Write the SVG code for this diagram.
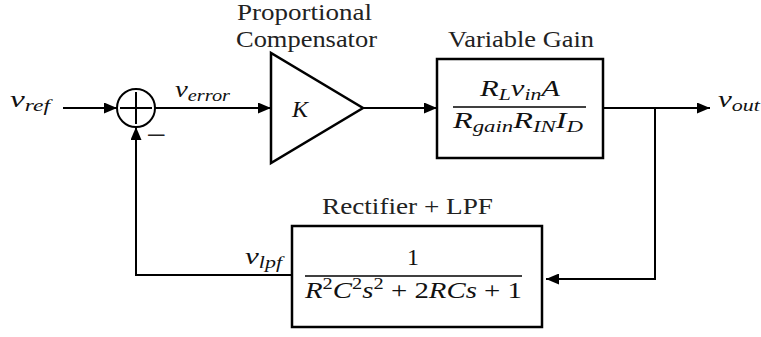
<svg xmlns="http://www.w3.org/2000/svg" width="761" height="337" viewBox="0 0 761 337">
<defs>
<marker id="arr" markerUnits="userSpaceOnUse" markerWidth="13" markerHeight="11" refX="13" refY="5.5" orient="auto">
<path d="M0,0 L13,5.5 L0,11 z" fill="#000"/>
</marker>
</defs>
<rect width="761" height="337" fill="#fff"/>
<g id="connectors" fill="none" stroke="#000" stroke-width="2">
<line x1="63" y1="108" x2="117" y2="108" marker-end="url(#arr)"/>
<line x1="155" y1="108" x2="271" y2="108" marker-end="url(#arr)"/>
<line x1="363" y1="108" x2="437" y2="108" marker-end="url(#arr)"/>
<line x1="603" y1="108" x2="710" y2="108" marker-end="url(#arr)"/>
<polyline points="655,108 655,279 546,279" marker-end="url(#arr)"/>
<polyline points="292,275 136,275 136,127" marker-end="url(#arr)"/>
</g>
<g id="sum">
<circle cx="136" cy="108" r="19" fill="none" stroke="#000" stroke-width="2"/>
<path d="M136,92 V124 M120,108 H152" stroke="#000" stroke-width="2"/>
<text style="font-family:'Liberation Serif',serif" font-size="32" fill="#222" x="146" y="146" textLength="20" lengthAdjust="spacingAndGlyphs">−</text>
</g>
<g id="compensator">
<polygon points="271,53 271,163 363,108" fill="#fff" stroke="#000" stroke-width="2.5"/>
<text style="font-family:'Liberation Serif',serif" font-size="24" fill="#222" x="304.5" y="20" text-anchor="middle" textLength="135" lengthAdjust="spacingAndGlyphs">Proportional</text>
<text style="font-family:'Liberation Serif',serif" font-size="24" fill="#222" x="306.5" y="47" text-anchor="middle" textLength="141" lengthAdjust="spacingAndGlyphs">Compensator</text>
<text style="font-family:'Liberation Serif',serif" font-size="24" font-style="italic" fill="#111" x="300" y="117" text-anchor="middle">K</text>
</g>
<g id="gain">
<rect x="437" y="59" width="166" height="99" fill="#fff" stroke="#000" stroke-width="2.5"/>
<text style="font-family:'Liberation Serif',serif" font-size="24" fill="#222" x="521" y="47" text-anchor="middle" textLength="146" lengthAdjust="spacingAndGlyphs">Variable Gain</text>
<text style="font-family:'Liberation Serif',serif" font-size="24" font-style="italic" fill="#111" x="480" y="96" textLength="80" lengthAdjust="spacingAndGlyphs">R<tspan font-size="17" dy="4">L</tspan><tspan dy="-4">v</tspan><tspan font-size="17" dy="4">in</tspan><tspan dy="-4">A</tspan></text>
<line x1="453" y1="107" x2="586" y2="107" stroke="#000" stroke-width="1.3"/>
<text style="font-family:'Liberation Serif',serif" font-size="24" font-style="italic" fill="#111" x="453" y="128" textLength="130" lengthAdjust="spacingAndGlyphs">R<tspan font-size="17" dy="4">gain</tspan><tspan dy="-4">R</tspan><tspan font-size="17" dy="4">IN</tspan><tspan dy="-4">I</tspan><tspan font-size="17" dy="4">D</tspan></text>
</g>
<g id="filter">
<rect x="292" y="226" width="250" height="101" fill="#fff" stroke="#000" stroke-width="2.5"/>
<text style="font-family:'Liberation Serif',serif" font-size="24" fill="#222" x="407.5" y="214" text-anchor="middle" textLength="171" lengthAdjust="spacingAndGlyphs">Rectifier + LPF</text>
<text style="font-family:'Liberation Serif',serif" font-size="24" fill="#111" x="413" y="265" text-anchor="middle">1</text>
<line x1="305" y1="276" x2="522" y2="276" stroke="#000" stroke-width="1.3"/>
<text style="font-family:'Liberation Serif',serif" font-size="24" font-style="italic" fill="#111" x="305" y="298" textLength="217" lengthAdjust="spacingAndGlyphs">R<tspan font-size="17" font-style="normal" dy="-9">2</tspan><tspan dy="9">C</tspan><tspan font-size="17" font-style="normal" dy="-9">2</tspan><tspan dy="9">s</tspan><tspan font-size="17" font-style="normal" dy="-9">2</tspan><tspan font-style="normal" dy="9"> + 2</tspan>RCs<tspan font-style="normal"> + 1</tspan></text>
</g>
<g id="labels">
<text style="font-family:'Liberation Serif',serif" font-size="24" font-style="italic" fill="#111" x="10" y="107" textLength="40" lengthAdjust="spacingAndGlyphs">v<tspan font-size="17" dy="4">ref</tspan></text>
<text style="font-family:'Liberation Serif',serif" font-size="24" font-style="italic" fill="#111" x="175" y="97" textLength="55" lengthAdjust="spacingAndGlyphs">v<tspan font-size="17" dy="4">error</tspan></text>
<text style="font-family:'Liberation Serif',serif" font-size="24" font-style="italic" fill="#111" x="718" y="107" textLength="42" lengthAdjust="spacingAndGlyphs">v<tspan font-size="17" dy="4">out</tspan></text>
<text style="font-family:'Liberation Serif',serif" font-size="24" font-style="italic" fill="#111" x="245" y="264" textLength="37" lengthAdjust="spacingAndGlyphs">v<tspan font-size="17" dy="4">lpf</tspan></text>
</g>
</svg>
